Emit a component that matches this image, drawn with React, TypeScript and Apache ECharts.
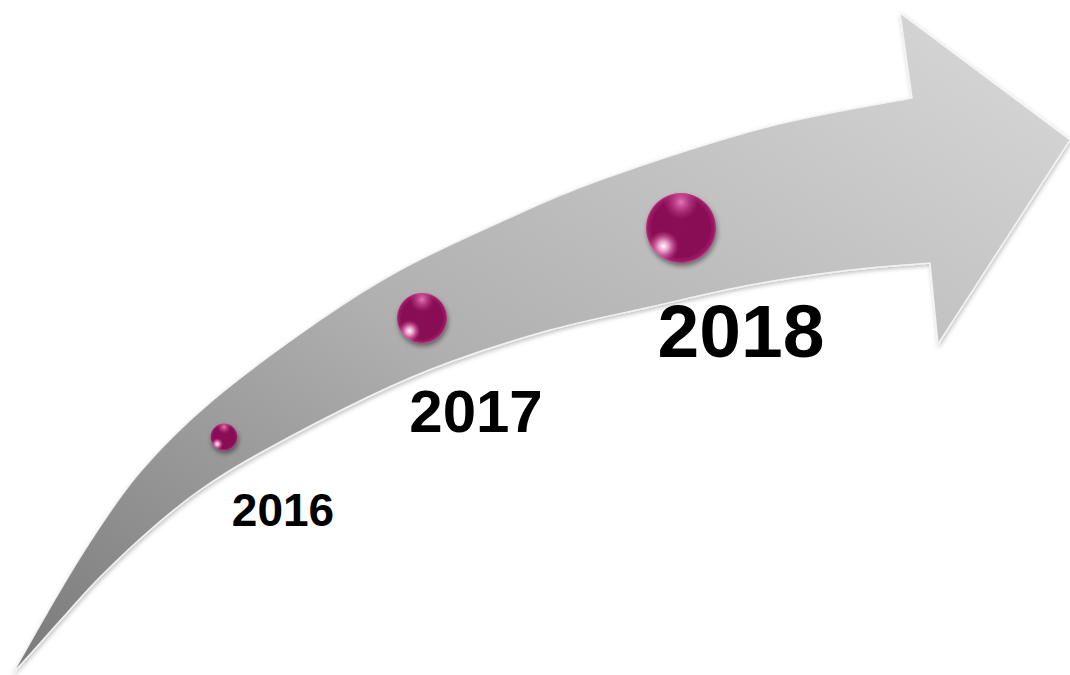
import React, { useEffect, useRef } from 'react';
import * as echarts from 'echarts';

// ---- data ----
const years = ['2016', '2017', '2018'];
const sphereX = [224, 422, 681];
const sphereY = [437, 318, 228];
const sphereSize = [27, 50, 70];
const labelX = [283, 476, 741];
const labelY = [510, 411, 331];
const labelFontSize = [46, 60, 75];

// ---- arrow outline ----
const upperEdge: number[][] = [
  [13, 673], [47, 613], [88, 545], [140, 472], [213, 400],
  [320, 320], [400, 270], [500, 222], [600, 180], [767, 127], [912, 98],
];
const headPoints: number[][] = [[900, 13], [1070, 140], [938, 344]];
const lowerEdge: number[][] = [
  [930, 263], [850, 270], [750, 285], [650, 307], [550, 330], [450, 362],
  [370, 396], [260, 453], [200, 490], [150, 530], [100, 577], [67, 613],
  [33, 651], [13, 673],
];

function smooth(pts: number[][]): string {
  let s = '';
  for (let i = 0; i < pts.length - 1; i++) {
    const p0 = pts[i - 1] || pts[i];
    const p1 = pts[i];
    const p2 = pts[i + 1];
    const p3 = pts[i + 2] || p2;
    const c1x = p1[0] + (p2[0] - p0[0]) / 6;
    const c1y = p1[1] + (p2[1] - p0[1]) / 6;
    const c2x = p2[0] - (p3[0] - p1[0]) / 6;
    const c2y = p2[1] - (p3[1] - p1[1]) / 6;
    s += ` C ${c1x} ${c1y} ${c2x} ${c2y} ${p2[0]} ${p2[1]}`;
  }
  return s;
}

const arrowD =
  `M ${upperEdge[0][0]} ${upperEdge[0][1]}` +
  smooth(upperEdge) +
  headPoints.map((p) => ` L ${p[0]} ${p[1]}`).join('') +
  ` L ${lowerEdge[0][0]} ${lowerEdge[0][1]}` +
  smooth(lowerEdge) +
  ' Z';

let registered = false;
function ensureShape() {
  if (registered) return;
  echarts.graphic.registerShape('curvedArrow', echarts.graphic.extendPath(arrowD, {}) as any);
  registered = true;
}

export default function App() {
  const ref = useRef<HTMLDivElement>(null);
  useEffect(() => {
    ensureShape();
    const chart = echarts.init(ref.current!, null, { renderer: 'svg' });
    const pts = years.map((y, i) => ({
      name: y,
      value: [sphereX[i], sphereY[i]],
      symbolSize: sphereSize[i],
    }));
    chart.setOption({
      animation: false,
      backgroundColor: '#ffffff',
      grid: { left: 0, right: 0, top: 0, bottom: 0 },
      xAxis: { type: 'value', min: 0, max: 1070, show: false },
      yAxis: { type: 'value', min: 0, max: 675, inverse: true, show: false },
      graphic: [
        {
          type: 'curvedArrow',
          x: 0,
          y: 0,
          scaleX: 1,
          scaleY: 1,
          z: 0,
          silent: true,
          style: {
            fill: new echarts.graphic.LinearGradient(0, 1, 1, 0, [
              { offset: 0, color: '#7a7a7a' },
              { offset: 0.45, color: '#b0b0b0' },
              { offset: 1, color: '#d9d9d9' },
            ]),
            stroke: 'rgba(245,245,245,0.9)',
            lineWidth: 1.5,
            shadowBlur: 4,
            shadowColor: 'rgba(0,0,0,0.25)',
            shadowOffsetX: 1,
            shadowOffsetY: 2,
          },
        },
      ],
      series: [
        {
          type: 'scatter',
          silent: true,
          z: 3,
          data: pts,
          itemStyle: {
            opacity: 1,
            color: new echarts.graphic.RadialGradient(0.5, 0.5, 0.5, [
              { offset: 0, color: '#8a0e55' },
              { offset: 0.82, color: '#880d54' },
              { offset: 0.94, color: '#9c1965' },
              { offset: 1, color: '#b8387f' },
            ]),
            shadowBlur: 5,
            shadowColor: 'rgba(0,0,0,0.45)',
            shadowOffsetY: 3,
            shadowOffsetX: 1,
          },
        },
        {
          type: 'scatter',
          silent: true,
          z: 4,
          data: pts,
          itemStyle: {
            opacity: 1,
            color: new echarts.graphic.RadialGradient(0.25, 0.76, 0.22, [
              { offset: 0, color: 'rgba(255,255,255,1)' },
              { offset: 0.35, color: 'rgba(252,190,225,0.8)' },
              { offset: 1, color: 'rgba(220,80,160,0)' },
            ]),
          },
        },
        {
          type: 'scatter',
          silent: true,
          z: 4,
          data: pts,
          itemStyle: {
            opacity: 1,
            color: new echarts.graphic.RadialGradient(0.5, 0.13, 0.25, [
              { offset: 0, color: 'rgba(240,130,195,0.9)' },
              { offset: 1, color: 'rgba(200,60,140,0)' },
            ]),
          },
        },
        {
          type: 'scatter',
          silent: true,
          z: 5,
          symbolSize: 0,
          itemStyle: { opacity: 1 },
          data: years.map((y, i) => ({
            name: y,
            value: [labelX[i], labelY[i]],
            label: {
              show: true,
              position: 'inside',
              formatter: y,
              fontSize: labelFontSize[i],
              fontWeight: 'bold',
              fontFamily: '"Liberation Sans", Arial, sans-serif',
              color: '#000000',
              opacity: 1,
            },
          })),
        },
      ],
    });
    return () => chart.dispose();
  }, []);
  return (
    <div
      ref={ref}
      style={{ position: 'absolute', left: 0, top: 0, width: 1070, height: 675, background: '#fff' }}
    />
  );
}
